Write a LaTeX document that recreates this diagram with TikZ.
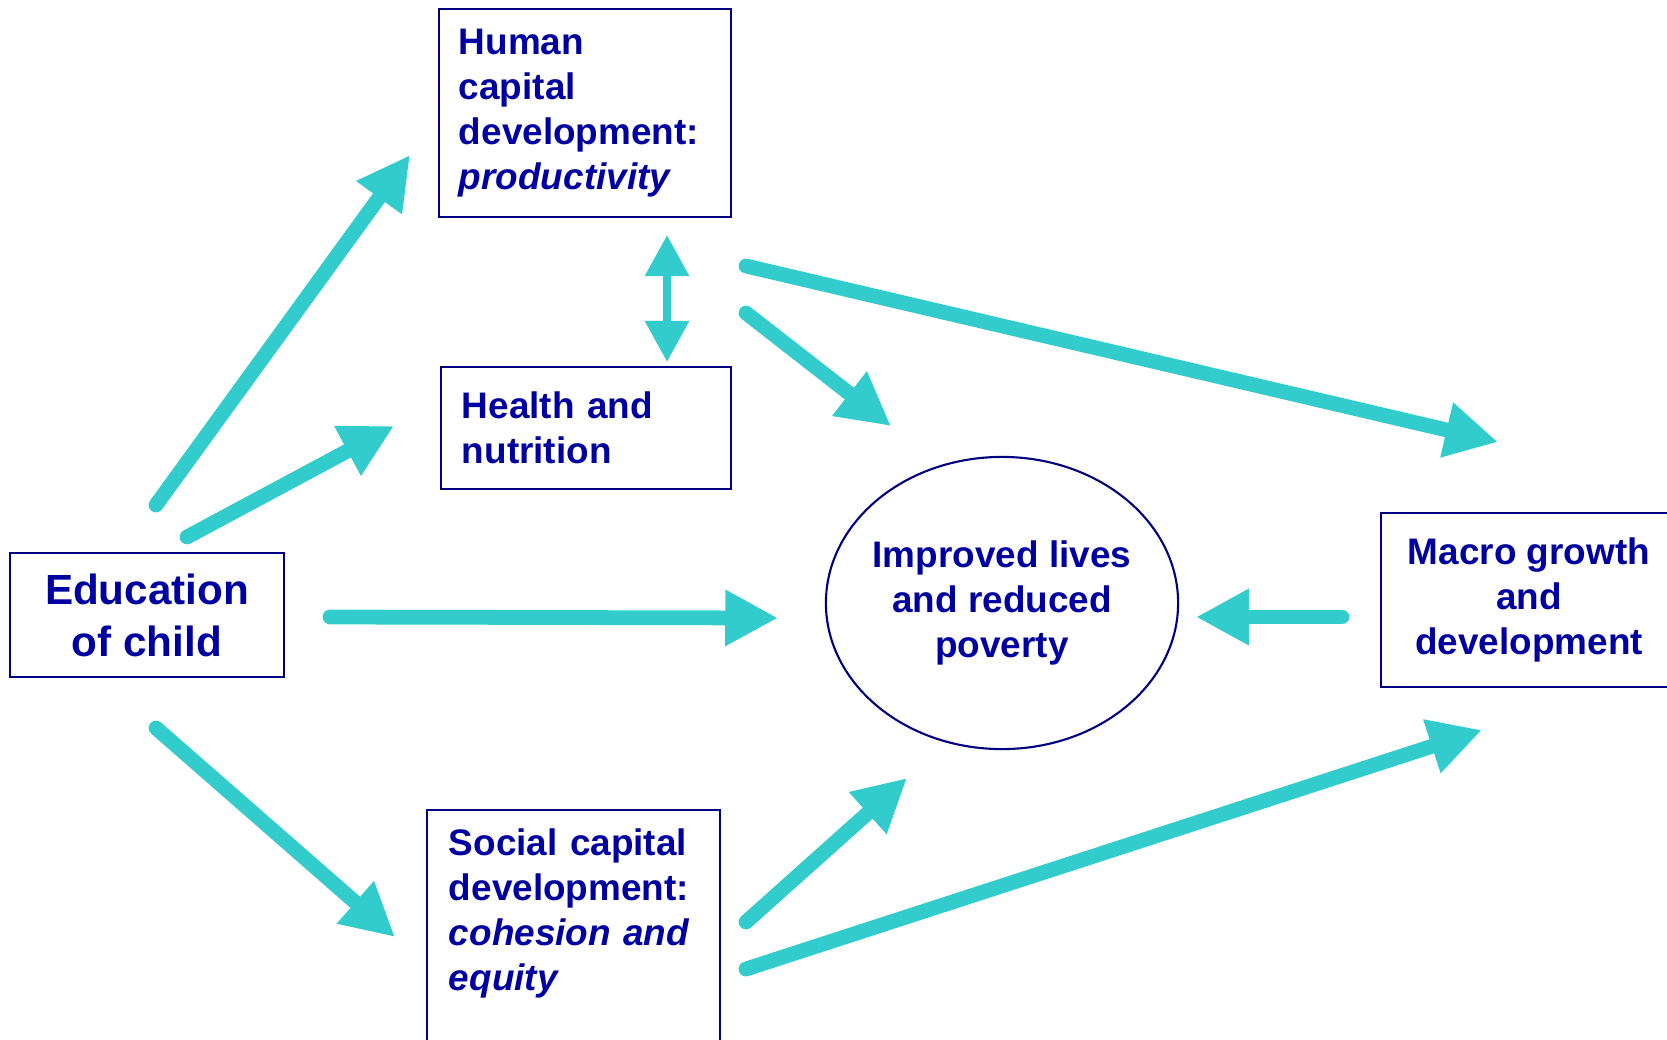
\documentclass[tikz,border=0pt]{standalone}
\usepackage{fontspec}
\setmainfont{Liberation Sans}
\usetikzlibrary{arrows.meta,shapes.geometric}
\definecolor{boxblue}{RGB}{0,0,128}
\definecolor{textblue}{RGB}{0,0,160}
\definecolor{flowcyan}{RGB}{51,204,204}
\tikzstyle{every node}=[text=textblue,font=\bfseries\fontsize{10.5}{12.8}\selectfont]
\tikzstyle{block}=[draw=boxblue,line width=0.6pt,align=left,inner xsep=0.2cm]
\tikzstyle{outcome}=[ellipse,draw=boxblue,line width=0.6pt,minimum width=3.52cm,minimum height=2.92cm]
\tikzstyle{flow}=[flowcyan,line width=4.2pt,line cap=round,-{Triangle[length=15pt,width=15pt]}]
\tikzstyle{link}=[flowcyan,line width=2.5pt,{Triangle[length=11.7pt,width=12pt]}-{Triangle[length=11.7pt,width=12pt]}]

\begin{document}
\begin{tikzpicture}[x=0.01cm,y=-0.01cm]
    \useasboundingbox (0,0) rectangle (1667,1039);
    \node[block,text width=2.52cm,minimum height=2.08cm] (human) at (585,113)
        {Human\\capital\\development:\\\textit{productivity}};
    \node[block,text width=2.48cm,inner xsep=0.21cm,minimum height=1.22cm] (health) at (586,428)
        {Health and\\nutrition};
    \node[block,align=center,font=\bfseries\fontsize{12}{14.8}\selectfont,
        minimum width=2.73cm,minimum height=1.24cm] (edu) at (147,615)
        {Education\\of child};
    \node[block,anchor=north,text width=2.49cm,inner xsep=0.22cm,inner ysep=0.19cm,
        text depth=2cm] (social) at (573.5,809)
        {Social capital\\development:\\\textit{cohesion and}\\\textit{equity}};
    \node[block,align=center,minimum width=2.96cm,minimum height=1.74cm] (macro) at (1529,600)
        {Macro growth\\and\\development};
    \node[outcome,label={[align=center]center:Improved lives\\and reduced\\poverty}] (lives) at (1002,603) {};

    \coordinate (edu-hum) at (156,505);
    \coordinate (hum-in) at (410,155);
    \coordinate (edu-hea) at (187,537);
    \coordinate (hea-in) at (394,426);
    \coordinate (edu-liv) at (330,617);
    \coordinate (liv-w) at (778,618);
    \coordinate (edu-soc) at (156,728);
    \coordinate (soc-in) at (395,937);
    \coordinate (hum-s) at (667,235);
    \coordinate (hea-n) at (667,362);
    \coordinate (hum-liv) at (746,313);
    \coordinate (liv-nw) at (891,426);
    \coordinate (hum-mac) at (746,266);
    \coordinate (mac-n) at (1498,442);
    \coordinate (mac-liv) at (1342,617);
    \coordinate (liv-e) at (1196,617);
    \coordinate (soc-liv) at (746,922);
    \coordinate (liv-sw) at (907,778);
    \coordinate (soc-mac) at (746,969);
    \coordinate (mac-s) at (1482,730);

    \draw[flow] (edu-hum) -- (hum-in);
    \draw[flow] (edu-hea) -- (hea-in);
    \draw[flow] (edu-liv) -- (liv-w);
    \draw[flow] (edu-soc) -- (soc-in);
    \draw[link] (hum-s) -- (hea-n);
    \draw[flow] (hum-liv) -- (liv-nw);
    \draw[flow] (hum-mac) -- (mac-n);
    \draw[flow] (mac-liv) -- (liv-e);
    \draw[flow] (soc-liv) -- (liv-sw);
    \draw[flow] (soc-mac) -- (mac-s);
\end{tikzpicture}
\end{document}
